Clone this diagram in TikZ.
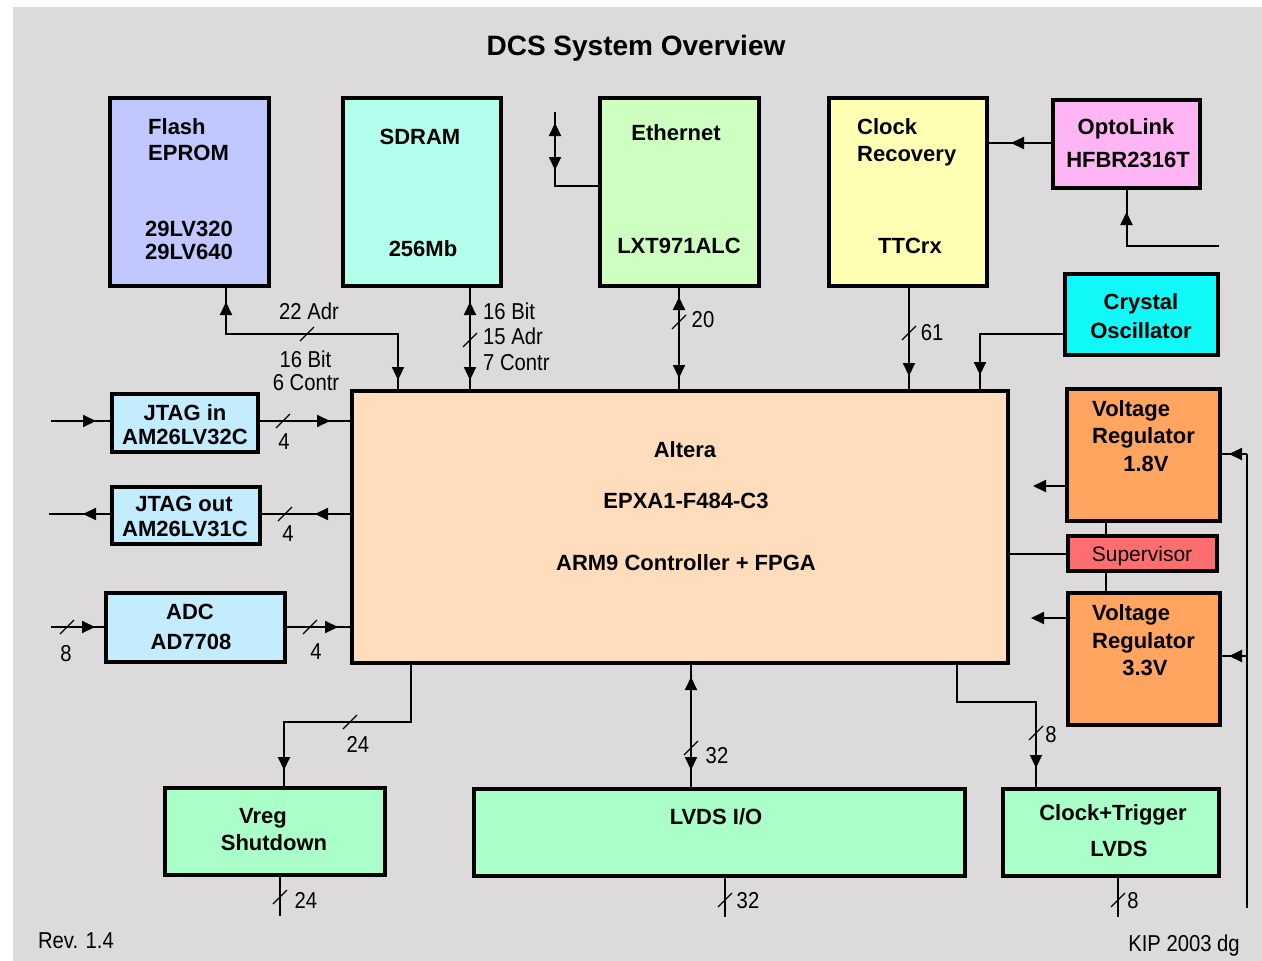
\documentclass[tikz,border=0pt]{standalone}
\usepackage{fontspec}
\setmainfont{Liberation Sans}
\newfontfamily\narrowf{Liberation Sans}[FakeStretch=0.88]
\usetikzlibrary{arrows.meta,decorations.markings}
\definecolor{bgc}{HTML}{DCDADA}
\definecolor{cflash}{HTML}{C0C8FF}
\definecolor{csdram}{HTML}{B2FFEE}
\definecolor{ceth}{HTML}{CCFFC0}
\definecolor{cclk}{HTML}{FFFFB4}
\definecolor{copto}{HTML}{FFB4F4}
\definecolor{ccrys}{HTML}{10F8F8}
\definecolor{calt}{HTML}{FFDCBC}
\definecolor{cblue}{HTML}{C4ECFF}
\definecolor{corange}{HTML}{FFA560}
\definecolor{csup}{HTML}{FF6E6E}
\definecolor{cgreen}{HTML}{AAFFC8}
\newcommand\blk[6]{\node[box,fill=#2,minimum width={#5-#3-4},minimum height={#6-#4-4}] (#1) at ({(#3+#5)/2},{(#4+#6)/2}) {};}
\newcommand\bustick[2]{\draw[tickln] (#1,#2) ++(-7,7) -- ++(14,-14);}
\begin{document}
\begin{tikzpicture}[x=1pt,y=-1pt,
  box/.style={draw=black,line width=4pt,inner sep=0pt,anchor=center},
  lbl/.style={font=\fontsize{22}{26}\selectfont\bfseries,inner sep=0pt,text height=16pt,text depth=0pt},
  bus/.style={font=\narrowf\fontsize{23}{27}\selectfont,inner sep=0pt,text height=16.5pt,text depth=0pt},
  wire/.style={line width=2pt,black},
  tickln/.style={line width=1.2pt,black},
  fwd/.style={postaction={decorate,decoration={markings,mark=at position #1 with {\arrow{Triangle[width=12pt,length=13pt]}}}}},
  bwd/.style={postaction={decorate,decoration={markings,mark=at position #1 with {\arrowreversed{Triangle[width=12pt,length=13pt]}}}}},
  tipend/.style={-{Triangle[width=12pt,length=13pt]}}]
\useasboundingbox (0,0) rectangle (1262,961);
\fill[white] (0,0) rectangle (1262,961);
\fill[bgc] (13,7) rectangle (1262,961);

% boxes
\blk{flash}{cflash}{108}{96}{271}{288}
\blk{sdram}{csdram}{341}{96}{503}{288}
\blk{eth}{ceth}{598}{96}{761}{288}
\blk{clk}{cclk}{827}{96}{989}{288}
\blk{opto}{copto}{1051}{98}{1202}{190}
\blk{crys}{ccrys}{1063}{272}{1220}{357}
\blk{altera}{calt}{350}{389}{1010}{665}
\blk{jin}{cblue}{110}{392}{260}{454}
\blk{jout}{cblue}{110}{485}{262}{546}
\blk{adc}{cblue}{104}{591}{287}{664}
\blk{vr18}{corange}{1065}{387}{1222}{523}
\blk{sup}{csup}{1066}{534}{1219}{573}
\blk{vr33}{corange}{1066}{591}{1222}{727}
\blk{vreg}{cgreen}{163}{786}{387}{877}
\blk{lvds}{cgreen}{472}{787}{967}{878}
\blk{ctl}{cgreen}{1001}{787}{1221}{878}

% coordinates
\coordinate (kA) at (226,334);
\coordinate (kB) at (398,334);
\coordinate (x470) at (470,0);
\coordinate (x679) at (679,0);
\coordinate (x909) at (909,0);
\coordinate (ethbend) at (555,186);
\coordinate (ethup) at (555,112);
\coordinate (oc) at (0,143);
\coordinate (optoend) at (1219,246);
\coordinate (crbend) at (980,334);
\coordinate (jinL) at (51,421);
\coordinate (joutL) at (49,514);
\coordinate (adcL) at (51,627);
\coordinate (v18L) at (1033,486);
\coordinate (v33L) at (1031,618);
\coordinate (x1106) at (1106,0);
\coordinate (rtop) at (1247,454);
\coordinate (r33) at (1247,656);
\coordinate (rbot) at (1247,908);
\coordinate (vb1) at (411,722);
\coordinate (vb2) at (284,722);
\coordinate (x691) at (691,0);
\coordinate (cb1) at (957,702);
\coordinate (cb2) at (1036,702);
\coordinate (vrbot) at (280,916);
\coordinate (lvbot) at (725,917);
\coordinate (ctbot) at (1118,917);

% connectors
\draw[wire,bwd=14pt,fwd=-9pt] (flash.south -| kA) -- (kA) -- (kB) -- (altera.north -| kB);
\draw[wire,bwd=14pt,fwd=-9pt] (sdram.south -| x470) -- (altera.north -| x470);
\draw[wire,bwd=9pt,fwd=-11pt] (eth.south -| x679) -- (altera.north -| x679);
\draw[wire,bwd=59pt,fwd=-11pt] (eth.west |- ethbend) -- (ethbend) -- (ethup);
\draw[wire,fwd=-13pt] (clk.south -| x909) -- (altera.north -| x909);
\draw[wire,fwd=-22pt] (opto.west |- oc) -- (clk.east |- oc);
\draw[wire,fwd=-22pt] (optoend) -- (optoend -| opto.south) -- (opto.south);
\draw[wire,fwd=-14pt] (crys.west |- crbend) -- (crbend) -- (altera.north -| crbend);
\draw[wire,fwd=-14pt] (jinL) -- (jin.west |- jinL);
\draw[wire,fwd=-20pt] (jin.east |- jinL) -- (altera.west |- jinL);
\draw[wire,fwd=35pt] (altera.west |- joutL) -- (jout.east |- joutL);
\draw[wire,fwd=-34pt] (jout.west |- joutL) -- (joutL);
\draw[wire,fwd=-9pt] (adcL) -- (adc.west |- adcL);
\draw[wire,fwd=-12pt] (adc.east |- adcL) -- (altera.west |- adcL);
\draw[wire,tipend] (vr18.west |- v18L) -- (v18L);
\draw[wire,tipend] (vr33.west |- v33L) -- (v33L);
\draw[wire] (altera.east |- sup.west) -- (sup.west);
\draw[wire] (vr18.south -| x1106) -- (sup.north -| x1106);
\draw[wire] (sup.south -| x1106) -- (vr33.north -| x1106);
\draw[wire] (rtop) -- (rbot);
\draw[wire,fwd=-7pt] (rtop) -- (vr18.east |- rtop);
\draw[wire,fwd=-7pt] (r33) -- (vr33.east |- r33);
\draw[wire,fwd=-16pt] (altera.south -| vb1) -- (vb1) -- (vb2) -- (vreg.north -| vb2);
\draw[wire,bwd=12pt,fwd=-17pt] (altera.south -| x691) -- (lvds.north -| x691);
\draw[wire,fwd=-19pt] (altera.south -| cb1) -- (cb1) -- (cb2) -- (ctl.north -| cb2);
\draw[wire] (vreg.south -| vrbot) -- (vrbot);
\draw[wire] (lvds.south -| lvbot) -- (lvbot);
\draw[wire] (ctl.south -| ctbot) -- (ctbot);

% bus ticks
\bustick{307}{334}
\bustick{470}{340}
\bustick{679}{322}
\bustick{909}{333}
\bustick{283}{421}
\bustick{285}{514}
\bustick{67}{627}
\bustick{310}{627}
\bustick{350}{722}
\bustick{691}{748}
\bustick{1036}{733}
\bustick{280}{897}
\bustick{725}{900}
\bustick{1118}{900}

% title
\node[font=\fontsize{28}{32}\selectfont\bfseries,inner sep=0pt,text height=20pt,text depth=0pt] (title) at (636,45) {DCS System Overview};

% box labels
\node[lbl,anchor=west] (flA) at (148,126) {Flash};
\node[lbl,anchor=west] (flB) at (148,152) {EPROM};
\node[lbl] (flC) at (189,228) {29LV320};
\node[lbl] (flD) at (189,251) {29LV640};
\node[lbl] (sdA) at (420,136) {SDRAM};
\node[lbl] (sdB) at (423,248) {256Mb};
\node[lbl] (etA) at (676,132) {Ethernet};
\node[lbl] (etB) at (679,245) {LXT971ALC};
\node[lbl,anchor=west] (ckA) at (857,126) {Clock};
\node[lbl,anchor=west] (ckB) at (857,153) {Recovery};
\node[lbl] (ckC) at (910,245) {TTCrx};
\node[lbl] (opA) at (1126,126) {OptoLink};
\node[lbl] (opB) at (1128,159.5) {HFBR2316T};
\node[lbl] (crA) at (1141,301) {Crystal};
\node[lbl] (crB) at (1141,330) {Oscillator};
\node[lbl] (alA) at (685,449) {Altera};
\node[lbl] (alB) at (686,500) {EPXA1-F484-C3};
\node[lbl] (alC) at (686,562) {ARM9 Controller + FPGA};
\node[lbl] (jiA) at (185,412) {JTAG in};
\node[lbl] (jiB) at (185,436) {AM26LV32C};
\node[lbl] (joA) at (184,503) {JTAG out};
\node[lbl] (joB) at (185,528) {AM26LV31C};
\node[lbl] (adA) at (190,611) {ADC};
\node[lbl] (adB) at (191,641) {AD7708};
\node[lbl,anchor=west] (v1A) at (1092,408) {Voltage};
\node[lbl,anchor=west] (v1B) at (1092,435) {Regulator};
\node[lbl] (v1C) at (1146,463) {1.8V};
\node[font=\fontsize{21}{25}\selectfont,inner sep=0pt,text height=15pt,text depth=0pt] (spA) at (1142,554) {Supervisor};
\node[lbl,anchor=west] (v3A) at (1092,612) {Voltage};
\node[lbl,anchor=west] (v3B) at (1092,640) {Regulator};
\node[lbl] (v3C) at (1145,667) {3.3V};
\node[lbl] (vgA) at (263,815) {Vreg};
\node[lbl] (vgB) at (274,842) {Shutdown};
\node[lbl] (lvA) at (716,816) {LVDS I/O};
\node[lbl] (ctA) at (1113,812) {Clock+Trigger};
\node[lbl] (ctB) at (1119,848) {LVDS};

% bus labels
\node[bus] (b1) at (309,311) {22 Adr};
\node[bus] (b2) at (305.5,359) {16 Bit};
\node[bus] (b3) at (306,382) {6 Contr};
\node[bus,anchor=west] (b4) at (483,311) {16 Bit};
\node[bus,anchor=west] (b5) at (483,336) {15 Adr};
\node[bus,anchor=west] (b6) at (483,362) {7 Contr};
\node[bus] (b7) at (703,319) {20};
\node[bus] (b8) at (932,332) {61};
\node[bus] (b9) at (284,441) {4};
\node[bus] (b10) at (288,533) {4};
\node[bus] (b11) at (66,653) {8};
\node[bus] (b12) at (316,651) {4};
\node[bus] (b13) at (358,744) {24};
\node[bus] (b14) at (717,755) {32};
\node[bus] (b15) at (1051,734) {8};
\node[bus] (b16) at (306,900) {24};
\node[bus] (b17) at (748,900) {32};
\node[bus] (b18) at (1133,900) {8};
\node[bus] (rev) at (76,940) {Rev. 1.4};
\node[bus] (kip) at (1184,943) {KIP 2003 dg};
\end{tikzpicture}
\end{document}
